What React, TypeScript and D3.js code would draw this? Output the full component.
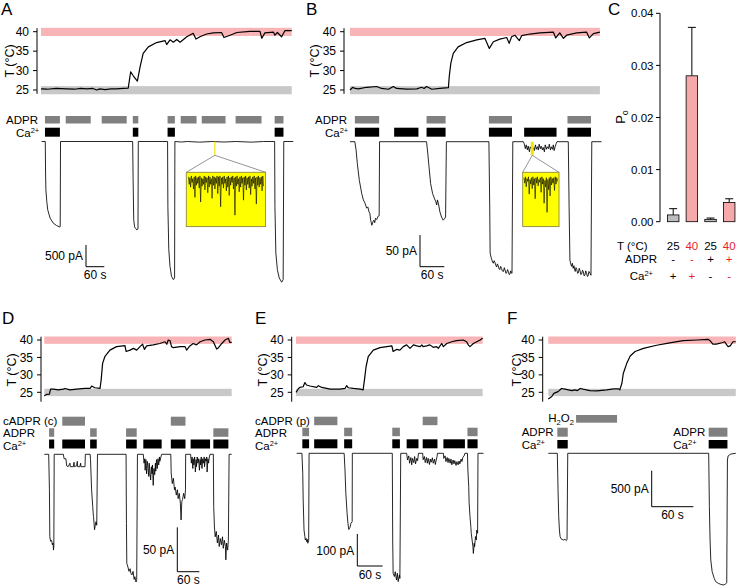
import React from 'react';
import * as d3 from 'd3';

type Pt = [number, number];
type Span = [number, number];

const FONT = "'Liberation Sans', Arial, Helvetica, sans-serif";
const PINK_BAND = '#f8b4b6';
const GREY_BAND = '#c8c8c8';
const DRUG_GREY = '#808080';
const RED = '#e6232b';
const PINK_BAR = '#f5a9ab';
const GREY_BAR = '#bdbdbd';

const tempTicks = [25, 30, 35, 40];

// ---------------- Panel A ----------------
const tempA: Pt[] = [[0,25.3],[20,25.2],[50,25.4],[84,25.3],[110,25.2],[130,25.4],[150,25.3],[170,25.4],[183,25.0],[193,25.3],[210,25.1],[230,25.3],[248,25.3],[270,25.4],[286,25.5],[294,29.7],[303,28.6],[316,27.3],[325,31],[335,34.4],[352,36.1],[379,37.2],[407,37.7],[412,36.7],[423,37.9],[434,37.3],[445,38.0],[456,37.3],[478,38.7],[499,39.6],[508,38.1],[521,38.7],[543,39.4],[565,39.7],[592,39.8],[600,38.5],[620,39.1],[642,39.8],[685,40.1],[718,40.1],[724,38.3],[734,39.7],[762,39.9],[767,39.1],[775,39.8],[789,38.7],[800,40.3],[822,40.3]];
const adprA: Span[] = [[13,62],[81,163],[199,281],[301,319],[415,439],[458,510],[527,605],[638,723],[766,795]];
const caA: Span[] = [[13,62],[301,319],[415,439],[766,795]];
const currentA: Pt[] = [[2,0],[14,0],[15,-730],[16,-1115],[19,-1385],[22,-1577],[30,-1770],[40,-1885],[51,-1940],[62,-1977],[63,-1960],[64,0],[300.5,0],[302,-885],[304,-1808],[307,-1977],[314,-2040],[318,-2020],[319,0],[415,0],[416,-1500],[419,-2500],[423,-2885],[428,-3115],[434,-3190],[438,-3150],[439,0],[460,-12],[480,0],[520,-15],[560,0],[600,-12],[640,0],[690,-15],[730,0],[766,0],[767,-1500],[770,-2577],[775,-2960],[781,-3150],[789,-3250],[794,-3190],[796,0],[827,0]];
const insetA: number[] = [2,10,3,13,1,8,4,15,2,24,1,11,3,9,2,14,1,29,3,12,4,10,1,16,2,8,3,19,1,13,2,10,4,25,1,11,2,15,3,9,1,20,2,12,1,34,3,10,2,14,1,9,4,17,2,13,1,22,3,11,2,8,1,15,3,43,2,12,1,10,4,18,2,13,1,9,3,27,2,11,1,16,3,10,2,14,1,21,4,12,2,9,1,15,3,31,2,11,1,13,3,10,2,17,1,12];

// ---------------- Panel B ----------------
const tempB: Pt[] = [[0,25.0],[7,25.7],[12,25.4],[21,25.3],[41,25.7],[66,25.9],[78,25.4],[95,25.2],[107,25.9],[115,25.4],[140,25.2],[165,25.3],[177,25.7],[183,25.4],[189,25.9],[202,25.2],[222,25.4],[243,25.6],[245,28.4],[249,31.9],[255,34.4],[267,36.1],[288,37.2],[313,37.9],[333,38.3],[344,35.7],[354,37.4],[370,38.1],[387,38.5],[393,37.0],[399,38.7],[407,39.1],[418,37.7],[424,39.0],[444,39.4],[469,39.7],[502,39.9],[508,38.4],[518,39.7],[527,38.3],[535,39.1],[560,39.7],[584,39.9],[591,38.4],[601,39.5],[617,39.9]];
const adprB: Span[] = [[12,72],[189,236],[343,400],[537,595]];
const caB: Span[] = [[12,72],[109,169],[189,236],[343,400],[430,510],[537,595]];
const currentB: Pt[] = [[0,0],[12,0],[15,-13],[18,-34],[23,-61],[29,-82],[33,-92],[37,-97],[41,-105],[44,-103],[47,-111],[49,-113],[51,-124],[54,-132],[57,-126],[59,-124],[61,-128],[63,-121],[66,-123],[69,-118],[72,-117],[73,0],[189,0],[192,-18],[195,-39],[199,-66],[204,-82],[208,-89],[212,-95],[214,-100],[216,-92],[219,-100],[222,-111],[226,-119],[230,-124],[233,-122],[236,-119],[238,0],[343,0],[345,-103],[346,-176],[349,-184],[352,-190],[354,-192],[356,-188],[358,-191],[360,-195],[362,-198],[364,-193],[366,-196],[368,-201],[370,-202],[372,-197],[374,-200],[376,-204],[379,-205],[381,-199],[383,-203],[385,-208],[387,-207],[389,-202],[391,-205],[393,-210],[395,-209],[397,-204],[398,-207],[400,-208],[402,0],[428,0],[430,-3],[433,-11],[435,-5],[438,-13],[440,-7],[443,-16],[445,-8],[448,-12],[450,-18],[453,-9],[455,-14],[458,-5],[460,-12],[463,-8],[465,-13],[467,-4],[470,-11],[472,-7],[475,-13],[477,-9],[480,-16],[482,-5],[485,-12],[487,-8],[490,-11],[492,-4],[495,-13],[497,-8],[500,-12],[502,-5],[504,-14],[507,-7],[509,-3],[511,0],[539,0],[541,-103],[543,-187],[545,-193],[547,-197],[549,-192],[551,-200],[553,-196],[556,-205],[558,-199],[560,-202],[562,-208],[564,-207],[566,-200],[568,-204],[570,-210],[572,-209],[574,-203],[576,-205],[578,-212],[580,-211],[582,-204],[584,-207],[586,-213],[588,-212],[590,-205],[593,-208],[595,-211],[597,0],[621,0]];
const insetB: number[] = [3,9,2,13,4,7,2,21,5,10,3,15,2,11,4,26,3,9,2,12,5,8,3,19,2,10,4,31,6,13,3,41,5,16,3,23,2,11,4,9,3,17,2,10,3,7];

// ---------------- Panel C ----------------
const cTemps = ['25', '40', '25', '40'];
const cAdpr = ['-', '-', '+', '+'];
const cCa = ['+', '+', '-', '-'];
const cMeans = [0.0013, 0.028, 0.00045, 0.0037];
const cErrs = [0.0012, 0.0093, 0.00025, 0.0007];
const cTicks = [0, 0.01, 0.02, 0.03, 0.04];

// ---------------- Panel D ----------------
const tempD: Pt[] = [[0,24.0],[6,24.4],[14,24.5],[17,25.9],[25,25.9],[38,25.7],[52,25.9],[56,26.1],[70,25.7],[88,25.9],[111,26.1],[125,26.1],[129,26.8],[138,26.3],[152,26.1],[155,28.5],[159,33.3],[165,35.2],[179,37.1],[197,38.1],[220,38.4],[223,36.7],[234,37.1],[243,37.6],[252,37.1],[261,38.1],[268,38.8],[273,37.3],[279,38.3],[297,38.6],[315,39.0],[329,39.5],[334,38.8],[338,40.0],[343,39.8],[347,38.1],[352,37.8],[370,38.1],[384,38.1],[388,37.1],[397,38.3],[406,39.0],[415,38.6],[425,39.5],[438,40.0],[452,40.2],[461,39.5],[470,37.4],[475,37.8],[484,39.0],[493,40.0],[502,40.5],[506,39.3],[511,39.3]];
const cadprD: Span[] = [[49,111],[345,385]];
const adprD: Span[] = [[13,27],[125,143],[223,252],[461,502]];
const caD: Span[] = [[13,27],[49,111],[125,143],[223,252],[270,320],[345,385],[399,452],[461,502]];
const currentD: Pt[] = [[0,0],[12,0],[14,-40],[15,-93],[17,-98],[20,-97],[22,-102],[24,-100],[25,-108],[26,-104],[27,0],[52,0],[54,-5],[59,-5],[61,-13],[65,-14],[70,-10],[71,-14],[79,-14],[81,-9],[82,-14],[88,-13],[90,-8],[91,-14],[97,-14],[99,-10],[100,-14],[111,-14],[112,0],[125,0],[126,-6],[129,-40],[132,-59],[134,-70],[135,-74],[137,-85],[139,-80],[141,-76],[143,-80],[145,0],[223,0],[224,-78],[225,-123],[228,-127],[231,-132],[234,-129],[236,-134],[239,-136],[242,-132],[245,-141],[247,-138],[250,-144],[252,-142],[254,0],[270,0],[272,-10],[274,-5],[275,-18],[277,-6],[279,-22],[281,-8],[283,-16],[285,-25],[286,-10],[288,-20],[290,-29],[292,-14],[294,-22],[295,-12],[297,-35],[299,-16],[301,-23],[303,-10],[304,-19],[306,-6],[308,-16],[310,-5],[312,-12],[314,-3],[315,-8],[318,-3],[320,0],[345,0],[346,-21],[349,-33],[352,-27],[355,-40],[357,-37],[360,-46],[363,-40],[365,-50],[368,-44],[371,-55],[373,-74],[375,-53],[377,-51],[380,-44],[383,-50],[385,-40],[385.5,0],[399,0],[401,-10],[403,-3],[405,-16],[406,-5],[408,-12],[410,-3],[412,-20],[414,-6],[415,-14],[417,-3],[419,-10],[421,-5],[423,-18],[425,-6],[426,-12],[428,-3],[430,-16],[432,-5],[434,-10],[436,-3],[437,-14],[439,-5],[441,-8],[443,-3],[444,-20],[446,-5],[448,-10],[450,-3],[452,0],[461,0],[462,-59],[464,-82],[466,-93],[469,-87],[472,-100],[475,-91],[477,-104],[480,-95],[483,-102],[486,-93],[488,-106],[491,-97],[494,-104],[495,-119],[497,-100],[500,-108],[502,-97],[504,0],[511,0]];

// ---------------- Panel E ----------------
const tempE: Pt[] = [[0,25.0],[6,26.1],[9,26.4],[17,26.6],[21,27.8],[25,27.1],[33,26.8],[49,26.4],[53,26.9],[61,26.4],[81,25.9],[104,25.9],[116,26.1],[120,26.9],[124,26.3],[136,26.1],[152,25.9],[159,25.7],[162,28.5],[166,32.4],[171,35.2],[183,37.1],[199,37.8],[215,38.1],[227,38.3],[230,36.7],[238,37.3],[246,37.1],[254,38.1],[262,38.6],[270,37.6],[278,38.6],[286,38.3],[294,38.1],[298,38.6],[301,38.1],[309,38.3],[317,38.6],[325,37.9],[333,38.1],[337,37.6],[345,39.0],[349,38.1],[357,39.0],[369,39.5],[380,39.8],[396,40.0],[404,39.5],[408,38.6],[412,38.1],[420,39.0],[428,39.5],[436,40.0],[442,40.5]];
const cadprE: Span[] = [[43,98],[300,335]];
const adprE: Span[] = [[15,31],[114,133],[228,246],[406,430]];
const caE: Span[] = [[15,31],[43,98],[114,133],[228,246],[262,290],[300,335],[349,400],[406,430]];
const currentE: Pt[] = [[1.6,0],[14,0],[16,-63],[17,-146],[19,-240],[21,-260],[22,-271],[24,-266],[25,-276],[27,-269],[28,-281],[30,-273],[31,0],[114,0],[116,-52],[118,-125],[121,-188],[123,-219],[125,-238],[128,-231],[130,-219],[133,-214],[133.4,0],[228,0],[229,-271],[230,-375],[233,-385],[235,-370],[238,-396],[240,-375],[242,-401],[245,-380],[246,-391],[248,0],[262,0],[264,-21],[267,-8],[269,-31],[272,-13],[274,-36],[276,-16],[279,-29],[281,-10],[283,-33],[286,-16],[288,-23],[290,0],[300,0],[301,-20],[304,-10],[306,-29],[309,-13],[311,-31],[313,-16],[316,-35],[318,-18],[320,-28],[323,-14],[325,-31],[328,-18],[330,-35],[332,-21],[334,-10],[335,0],[349,0],[350,-16],[353,-8],[355,-26],[358,-13],[360,-29],[362,-16],[365,-31],[367,-18],[369,-36],[372,-21],[374,-33],[376,-23],[379,-38],[381,-26],[384,-36],[386,-24],[388,-33],[391,-18],[393,-26],[395,-13],[398,-8],[400,0],[406,0],[407,-52],[409,-104],[410,-156],[412,-198],[414,-229],[415,-250],[417,-271],[419,-292],[420,-313],[422,-281],[423,-292],[425,-260],[427,-271],[428,-240],[430,-250],[431,0],[444,0]];

// ---------------- Panel F ----------------
const tempF: Pt[] = [[0,23.1],[5,23.8],[8,24.7],[14,25.2],[19,26.1],[24,25.9],[29,25.7],[34,25.5],[38,25.7],[42,25.5],[46,26.1],[50,25.9],[60,25.5],[70,25.4],[84,25.7],[94,26.0],[101,26.0],[103,25.7],[106,27.6],[108,30.4],[113,33.3],[118,35.4],[125,36.7],[137,37.6],[156,38.5],[175,39.2],[194,39.8],[214,40.0],[230,40.2],[233,39.8],[237,38.8],[242,38.8],[250,39.2],[254,39.5],[257,38.6],[259,38.1],[262,38.3],[266,39.5],[270,39.5]];
const h2o2F: Span[] = [[40,99]];
const adprF: Span[] = [[13,28],[231,258]];
const caF: Span[] = [[13,28],[231,258]];
const currentF: Pt[] = [[0,0],[13,0],[14,-509],[15,-880],[16,-1065],[17,-1157],[19,-1194],[22,-1204],[24,-1194],[26,-1213],[27,-1194],[28,0],[231,0],[232,-741],[233,-1204],[234,-1481],[236,-1644],[239,-1736],[241,-1782],[245,-1806],[248,-1819],[252,-1829],[255,-1819],[257,-1796],[258,-93],[259,-37],[262,-14],[266,-5],[270,0]];

// ---------------- layout ----------------
interface Row { spans: Span[]; y: number; h: number; color: string; labels: { text: string; x: number; y: number }[] }
interface Inset { markT: number; markW: number; box: [number, number, number, number]; trace: [number, number, number, number]; values: number[] }
interface PanelCfg {
  letter: string; lx: number; ly: number;
  x0: number; pps: number; tEnd: number;
  axisX: number; y25: number; y40: number; axisLo: number; axisHi: number; tLabelX: number; tLabelY: number;
  bandEnd: number; temp: Pt[];
  rows: Row[];
  current: Pt[]; baseY: number; pxPerPA: number;
  sb: { value: number; x: number; y: number; label: string };
  inset?: Inset;
}

const panels: PanelCfg[] = [
  {
    letter: 'A', lx: 1, ly: 15, x0: 41, pps: 0.305, tEnd: 830,
    axisX: 37, y25: 90, y40: 31.7, axisLo: 24, axisHi: 40.9, tLabelX: 10, tLabelY: 61,
    bandEnd: 822, temp: tempA,
    rows: [
      { spans: adprA, y: 116, h: 7.5, color: DRUG_GREY, labels: [{ text: 'ADPR', x: 6, y: 123.5 }] },
      { spans: caA, y: 127.7, h: 9, color: '#000', labels: [{ text: 'Ca', x: 16, y: 137 }] },
    ],
    current: currentA, baseY: 141.5, pxPerPA: 0.0433,
    sb: { value: 500, x: 86, y: 266.7, label: '500 pA' },
    inset: { markT: 570, markW: 1.2, box: [186.3, 172.3, 79.3, 54.3], trace: [188.5, 263.5, 175, 217], values: insetA },
  },
  {
    letter: 'B', lx: 306, ly: 15, x0: 350, pps: 0.405, tEnd: 621,
    axisX: 344, y25: 90, y40: 31.7, axisLo: 24, axisHi: 40.9, tLabelX: 315, tLabelY: 61,
    bandEnd: 617, temp: tempB,
    rows: [
      { spans: adprB, y: 116, h: 7.5, color: DRUG_GREY, labels: [{ text: 'ADPR', x: 315, y: 123.5 }] },
      { spans: caB, y: 127.7, h: 9, color: '#000', labels: [{ text: 'Ca', x: 325, y: 137 }] },
    ],
    current: currentB, baseY: 141.7, pxPerPA: 0.633,
    sb: { value: 50, x: 420, y: 266.7, label: '50 pA' },
    inset: { markT: 450, markW: 3, box: [522.7, 172.3, 36.3, 54.3], trace: [524, 557.5, 175, 216], values: insetB },
  },
  {
    letter: 'D', lx: 2, ly: 324, x0: 44.3, pps: 0.3667, tEnd: 511,
    axisX: 41, y25: 392.3, y40: 340, axisLo: 22.3, axisHi: 40.95, tLabelX: 12, tLabelY: 370,
    bandEnd: 511, temp: tempD,
    rows: [
      { spans: cadprD, y: 416.7, h: 9, color: DRUG_GREY, labels: [{ text: 'cADPR (c)', x: 3, y: 424.5 }] },
      { spans: adprD, y: 428.3, h: 8.5, color: DRUG_GREY, labels: [{ text: 'ADPR', x: 3, y: 436.5 }] },
      { spans: caD, y: 439.5, h: 9, color: '#000', labels: [{ text: 'Ca', x: 3, y: 450 }] },
    ],
    current: currentD, baseY: 454.3, pxPerPA: 0.887,
    sb: { value: 50, x: 177.3, y: 571.7, label: '50 pA' },
  },
  {
    letter: 'E', lx: 255, ly: 324, x0: 296, pps: 0.4223, tEnd: 444,
    axisX: 291.7, y25: 392.3, y40: 340, axisLo: 22.3, axisHi: 40.95, tLabelX: 263, tLabelY: 370,
    bandEnd: 442, temp: tempE,
    rows: [
      { spans: cadprE, y: 416.7, h: 8.5, color: DRUG_GREY, labels: [{ text: 'cADPR (p)', x: 255, y: 424.5 }] },
      { spans: adprE, y: 427.7, h: 8.5, color: DRUG_GREY, labels: [{ text: 'ADPR', x: 255, y: 436.5 }] },
      { spans: caE, y: 439.3, h: 9, color: '#000', labels: [{ text: 'Ca', x: 255, y: 450 }] },
    ],
    current: currentE, baseY: 453.3, pxPerPA: 0.32,
    sb: { value: 100, x: 357.3, y: 566, label: '100 pA' },
  },
  {
    letter: 'F', lx: 507, ly: 324, x0: 548.3, pps: 0.6943, tEnd: 270,
    axisX: 542.7, y25: 392.3, y40: 340, axisLo: 22.3, axisHi: 40.95, tLabelX: 517, tLabelY: 370,
    bandEnd: 270, temp: tempF,
    rows: [
      { spans: h2o2F, y: 415, h: 7.7, color: DRUG_GREY, labels: [{ text: 'H2O2', x: 548.3, y: 421.5 }] },
      { spans: adprF, y: 427.7, h: 9, color: DRUG_GREY, labels: [{ text: 'ADPR', x: 521.7, y: 436 }, { text: 'ADPR', x: 673.3, y: 436 }] },
      { spans: caF, y: 440, h: 8.5, color: '#000', labels: [{ text: 'Ca', x: 521.7, y: 449 }, { text: 'Ca', x: 673.3, y: 449 }] },
    ],
    current: currentF, baseY: 453.3, pxPerPA: 0.072,
    sb: { value: 500, x: 651.7, y: 506.7, label: '500 pA' },
  },
];

function RowLabel({ text, x, y }: { text: string; x: number; y: number }) {
  if (text === 'Ca') {
    return (
      <text x={x} y={y} fontSize={11.5}>
        Ca<tspan dy={-4} fontSize={7.5}>2+</tspan>
      </text>
    );
  }
  if (text === 'H2O2') {
    return (
      <text x={x} y={y} fontSize={11.5}>
        H<tspan dy={3} fontSize={7.5}>2</tspan><tspan dy={-3}>O</tspan><tspan dy={3} fontSize={7.5}>2</tspan>
      </text>
    );
  }
  return <text x={x} y={y} fontSize={11.5}>{text}</text>;
}

function TracePanel({ cfg }: { cfg: PanelCfg }) {
  const xs = d3.scaleLinear().domain([0, cfg.tEnd]).range([cfg.x0, cfg.x0 + cfg.tEnd * cfg.pps]);
  const ts = d3.scaleLinear().domain([25, 40]).range([cfg.y25, cfg.y40]);
  const is = d3.scaleLinear().domain([0, -100]).range([cfg.baseY, cfg.baseY + 100 * cfg.pxPerPA]);
  const tLine = d3.line<Pt>().x(d => xs(d[0])).y(d => ts(d[1]));
  const iLine = d3.line<Pt>().x(d => xs(d[0])).y(d => is(d[1]));
  const sbLen = is(-cfg.sb.value) - is(0);
  const sbW = xs(60) - xs(0);
  const inset = cfg.inset;
  let insetEl: React.ReactNode = null;
  if (inset) {
    const mx = xs(inset.markT);
    const [bx, by, bw, bh] = inset.box;
    const ix = d3.scaleLinear().domain([0, inset.values.length - 1]).range([inset.trace[0], inset.trace[1]]);
    const iy = d3.scaleLinear().domain([0, 45]).range([inset.trace[2], inset.trace[3]]);
    const insLine = d3.line<number>().x((_, i) => ix(i)).y(d => iy(d));
    const tipY = by - 17;
    insetEl = (
      <g>
        <rect x={mx - inset.markW / 2} y={cfg.baseY} width={inset.markW} height={tipY - cfg.baseY} fill="#f2e600" />
        <line x1={mx} y1={tipY} x2={bx} y2={by} stroke="#7a7a7a" strokeWidth={0.8} />
        <line x1={mx} y1={tipY} x2={bx + bw} y2={by} stroke="#7a7a7a" strokeWidth={0.8} />
        <rect x={bx} y={by} width={bw} height={bh} fill="#ffff00" stroke="#8a8a40" strokeWidth={0.9} />
        <path d={insLine(inset.values) || ''} fill="none" stroke="#000" strokeWidth={0.6} />
      </g>
    );
  }
  return (
    <g>
      <text x={cfg.lx} y={cfg.ly} fontSize={17}>{cfg.letter}</text>
      <rect x={xs(0)} y={ts(41)} width={xs(cfg.bandEnd) - xs(0)} height={ts(38.9) - ts(41)} fill={PINK_BAND} />
      <rect x={xs(0)} y={ts(26)} width={xs(cfg.bandEnd) - xs(0)} height={ts(23.9) - ts(26)} fill={GREY_BAND} />
      <path d={tLine(cfg.temp) || ''} fill="none" stroke="#000" strokeWidth={1.2} strokeLinejoin="round" />
      <line x1={cfg.axisX} x2={cfg.axisX} y1={ts(cfg.axisLo)} y2={ts(cfg.axisHi)} stroke="#000" strokeWidth={1} />
      {tempTicks.map(t => (
        <g key={t}>
          <line x1={cfg.axisX - 4} x2={cfg.axisX} y1={ts(t)} y2={ts(t)} stroke="#000" strokeWidth={1} />
          <text x={cfg.axisX - 8} y={ts(t)} dy="0.36em" textAnchor="end" fontSize={12}>{t}</text>
        </g>
      ))}
      <text transform={`translate(${cfg.tLabelX},${cfg.tLabelY}) rotate(-90)`} textAnchor="middle" dy="0.35em" fontSize={12.5}>T (°C)</text>
      {cfg.rows.map((r, ri) => (
        <g key={ri}>
          {r.spans.map((s, si) => (
            <rect key={si} x={xs(s[0])} y={r.y} width={xs(s[1]) - xs(s[0])} height={r.h} fill={r.color} />
          ))}
          {r.labels.map((l, li) => <RowLabel key={li} {...l} />)}
        </g>
      ))}
      <path d={iLine(cfg.current) || ''} fill="none" stroke="#000" strokeWidth={0.85} strokeLinejoin="round" />
      {insetEl}
      <path d={`M${cfg.sb.x},${cfg.sb.y - sbLen}V${cfg.sb.y}H${cfg.sb.x + sbW}`} fill="none" stroke="#000" strokeWidth={1} />
      <text x={cfg.sb.x - 3} y={cfg.sb.y - sbLen / 2 + 4.5} textAnchor="end" fontSize={12}>{cfg.sb.label}</text>
      <text x={cfg.sb.x + sbW / 2} y={cfg.sb.y + 12.5} textAnchor="middle" fontSize={12}>60 s</text>
    </g>
  );
}

function PanelC() {
  const axisX = 660;
  const y = d3.scaleLinear().domain([0, 0.04]).range([221.7, 13.3]);
  const x = d3.scalePoint<number>().domain([0, 1, 2, 3]).range([673.2, 729.2]);
  const bw = 11.5;
  const fmt = d3.format('.2f');
  return (
    <g>
      <text x={608} y={15} fontSize={17}>C</text>
      <line x1={axisX} x2={axisX} y1={y(0)} y2={y(0.04)} stroke="#000" />
      {cTicks.map(t => (
        <g key={t}>
          <line x1={axisX - 4} x2={axisX} y1={y(t)} y2={y(t)} stroke="#000" />
          <text x={axisX - 6.5} y={y(t)} dy="0.36em" textAnchor="end" fontSize={11.5}>{fmt(t)}</text>
        </g>
      ))}
      <text transform={`translate(620,117) rotate(-90)`} textAnchor="middle" dy="0.35em" fontSize={13}>
        P<tspan dy={3} fontSize={9}>o</tspan>
      </text>
      {cMeans.map((m, i) => {
        const cx = x(i) as number;
        const hot = cTemps[i] === '40';
        return (
          <g key={i}>
            <line x1={cx} x2={cx} y1={y(m)} y2={y(m + cErrs[i])} stroke="#000" strokeWidth={1} />
            <line x1={cx - 4} x2={cx + 4} y1={y(m + cErrs[i])} y2={y(m + cErrs[i])} stroke="#000" strokeWidth={1} />
            <rect x={cx - bw / 2} y={y(m)} width={bw} height={y(0) - y(m)} fill={hot ? PINK_BAR : GREY_BAR} stroke="#000" strokeWidth={0.8} />
          </g>
        );
      })}
      <text x={617} y={250} fontSize={11.5}>T (°C)</text>
      <text x={657} y={263} fontSize={11.5} textAnchor="end">ADPR</text>
      <text x={653} y={279.5} fontSize={11.5} textAnchor="end">Ca<tspan dy={-4} fontSize={7.5}>2+</tspan></text>
      {cTemps.map((t, i) => (
        <g key={i} fill={t === '40' ? RED : '#000'}>
          <text x={x(i)} y={250} textAnchor="middle" fontSize={11.5}>{t}</text>
          <text x={x(i)} y={263} textAnchor="middle" fontSize={11.5}>{cAdpr[i]}</text>
          <text x={x(i)} y={279.5} textAnchor="middle" fontSize={11.5}>{cCa[i]}</text>
        </g>
      ))}
    </g>
  );
}

export default function App() {
  return (
    <svg width={737} height={588} viewBox="0 0 737 588" style={{ position: 'absolute', left: 0, top: 0, background: '#fff' }} fontFamily={FONT}>
      <rect width={737} height={588} fill="#fff" />
      {panels.map(p => <TracePanel key={p.letter} cfg={p} />)}
      <PanelC />
    </svg>
  );
}
